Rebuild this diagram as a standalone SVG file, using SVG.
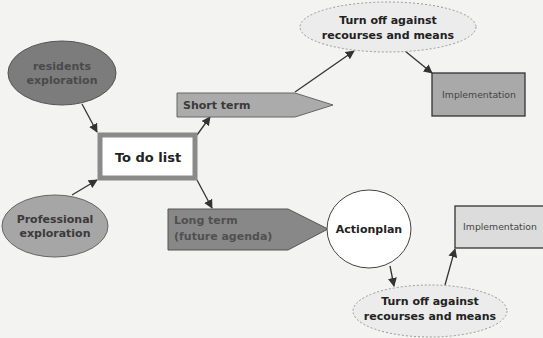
<svg xmlns="http://www.w3.org/2000/svg" width="543" height="338" viewBox="0 0 543 338">
<style>
text{font-family:"DejaVu Sans","Verdana",sans-serif;text-anchor:middle}
.b{font-weight:bold;font-size:11px;fill:#333}
.imp{font-size:9.3px;fill:#444}
.con line{stroke:#333;stroke-width:1.3;marker-end:url(#ah)}
.dash{fill:#ececec;stroke:#999;stroke-width:1;stroke-dasharray:2 2}
</style>
<defs>
<marker id="ah" viewBox="0 0 10 10" refX="9" refY="5" markerWidth="9" markerHeight="9" markerUnits="userSpaceOnUse" orient="auto">
<path d="M0,0 L10,5 L0,10 z" fill="#333"/>
</marker>
</defs>
<rect width="543" height="338" fill="#f3f3f1"/>
<g class="con">
<line x1="82" y1="104" x2="97" y2="132"/>
<line x1="72" y1="195" x2="97" y2="180"/>
<line x1="197" y1="135" x2="210" y2="117"/>
<line x1="197" y1="180" x2="212" y2="208"/>
<line x1="295" y1="92" x2="354" y2="51"/>
<line x1="405" y1="51" x2="432" y2="73"/>
<line x1="390" y1="266" x2="394" y2="286"/>
<line x1="445" y1="285" x2="455" y2="249"/>
</g>
<g id="residents">
<ellipse cx="62" cy="73" rx="54" ry="32" fill="#7c7c7c" stroke="#555" stroke-width="1"/>
<text class="b" x="62" y="70" fill="#4a4a4a" style="fill:#4a4a4a">residents</text>
<text class="b" x="62" y="84" style="fill:#4a4a4a">exploration</text>
</g>
<g id="professional">
<ellipse cx="55" cy="226" rx="53" ry="31" fill="#a6a6a6" stroke="#666" stroke-width="1"/>
<text class="b" x="55" y="223" style="fill:#3a3a3a">Professional</text>
<text class="b" x="55" y="237" style="fill:#3a3a3a">exploration</text>
</g>
<g id="todo">
<rect x="100" y="135" width="95" height="43" fill="#fff" stroke="#8a8a8a" stroke-width="5"/>
<text x="148" y="162" style="font-weight:bold;font-size:13px;fill:#222">To do list</text>
</g>
<g id="shortterm">
<path d="M177,93 L295,93 L333,105 L295,117 L177,117 z" fill="#ababab" stroke="#666" stroke-width="1"/>
<text class="b" x="183" y="109" style="text-anchor:start;fill:#3a3a3a">Short term</text>
</g>
<g id="longterm">
<path d="M168,209 L288,209 L328,229 L288,250 L168,250 z" fill="#888" stroke="#555" stroke-width="1"/>
<text class="b" x="174" y="224" style="text-anchor:start;fill:#505050">Long term</text>
<text class="b" x="174" y="240" style="text-anchor:start;fill:#505050">(future agenda)</text>
</g>
<g id="turnoff1">
<ellipse class="dash" cx="388" cy="27" rx="88" ry="25"/>
<text class="b" x="388" y="24" style="fill:#222">Turn off against</text>
<text class="b" x="388" y="39" style="fill:#222">recourses and means</text>
</g>
<g id="impl1">
<rect x="432" y="73" width="93" height="43" fill="#a9a9a9" stroke="#333" stroke-width="1.3"/>
<text class="imp" x="479" y="98">Implementation</text>
</g>
<g id="actionplan">
<ellipse cx="369" cy="229" rx="42" ry="39" fill="#fff" stroke="#444" stroke-width="1"/>
<text class="b" x="369" y="233" style="fill:#222">Actionplan</text>
</g>
<g id="turnoff2">
<ellipse class="dash" cx="430" cy="311" rx="77" ry="26"/>
<text class="b" x="430" y="305" style="fill:#222">Turn off against</text>
<text class="b" x="430" y="320" style="fill:#222">recourses and means</text>
</g>
<g id="impl2">
<rect x="455" y="206" width="95" height="42" fill="#dcdcdc" stroke="#333" stroke-width="1.3"/>
<text class="imp" x="500" y="230">Implementation</text>
</g>
</svg>
